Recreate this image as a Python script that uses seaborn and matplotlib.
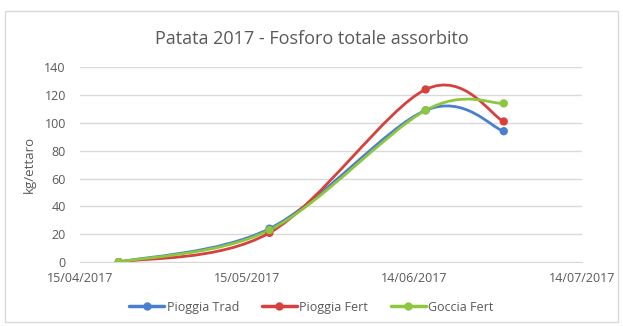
import numpy as np
import pandas as pd
import matplotlib
matplotlib.use("Agg")
import matplotlib.pyplot as plt
import matplotlib.dates as mdates
from matplotlib.path import Path
from matplotlib.patches import PathPatch, Rectangle
from matplotlib.lines import Line2D
import seaborn as sns

# dati
date = ["2017-04-22", "2017-05-19", "2017-06-16", "2017-06-30"]
pioggia_trad = [0, 24, 109, 94]
pioggia_fert = [0, 21, 124, 101]
goccia_fert = [0, 23, 109, 114]
serie = ["Pioggia Trad", "Pioggia Fert", "Goccia Fert"]
colori = ["#4a7ecf", "#d6403d", "#8dc63f"]
tick_date = ["2017-04-15", "2017-05-15", "2017-06-14", "2017-07-14"]

df = pd.DataFrame({"data": pd.to_datetime(date) })
df["Pioggia Trad"] = pioggia_trad
df["Pioggia Fert"] = pioggia_fert
df["Goccia Fert"] = goccia_fert
df_long = df.melt(id_vars="data", var_name="serie", value_name="valore")

sns.set_style("white")
plt.rcParams["font.family"] = ["Open Sans", "DejaVu Sans"]

fig = plt.figure(figsize=(6.23, 3.26), dpi=100)
ax = fig.add_axes([0.128, 0.196, 0.806, 0.598])

# curva smussata stile Excel (bezier catmull-rom)
def curva(x, y):
    p = np.column_stack([x, y])
    pts = np.vstack([p[0], p, p[-1]])
    verts = [p[0]]
    codes = [Path.MOVETO]
    for i in range(1, len(pts) - 2):
        c1 = pts[i] + (pts[i + 1] - pts[i - 1]) / 6
        c2 = pts[i + 1] - (pts[i + 2] - pts[i]) / 6
        verts += [c1, c2, pts[i + 1]]
        codes += [Path.CURVE4] * 3
    return Path(verts, codes)

xnum = mdates.date2num(df["data"])
for s, c in zip(serie, colori):
    patch = PathPatch(curva(xnum, df[s].values), facecolor="none", edgecolor=c, lw=2.0, zorder=3)
    ax.add_patch(patch)

sns.scatterplot(data=df_long, x="data", y="valore", hue="serie", palette=colori,
                s=36, edgecolor="none", ax=ax, zorder=4, legend=False)

ax.set_xlim(pd.to_datetime(tick_date[0]), pd.to_datetime(tick_date[-1]))
ax.set_ylim(0, 140)
ax.set_yticks(range(0, 141, 20))
ax.set_xticks(pd.to_datetime(tick_date))
ax.xaxis.set_major_formatter(mdates.DateFormatter("%d/%m/%Y"))
ax.grid(axis="y", color="#d9d9d9", lw=1)
for sp in ["top", "right", "left"]:
    ax.spines[sp].set_visible(False)
ax.spines["bottom"].set_color("#d9d9d9")
ax.tick_params(axis="x", length=4, color="#d9d9d9", labelsize=9, labelcolor="#595959", pad=3)
ax.tick_params(axis="y", length=0, labelsize=9, labelcolor="#595959", pad=10)
ax.set_xlabel("")
ax.set_ylabel("kg/ettaro", fontsize=9.5, color="#595959", labelpad=6)

fig.text(0.5, 0.88, "Patata 2017 - Fosforo totale assorbito", ha="center", va="center",
         fontsize=13, color="#595959")

handles = [Line2D([0], [0], color=c, lw=2.5, marker="o", markersize=5) for c in colori]
fig.legend(handles, serie, loc="center", bbox_to_anchor=(0.5, 0.058), ncol=3, frameon=False,
           fontsize=9, labelcolor="#595959", handlelength=2.8, handletextpad=0.2, columnspacing=1.8)

fig.patches.append(Rectangle((0.008, 0.012), 0.984, 0.955, transform=fig.transFigure,
                             fill=False, edgecolor="#d9d9d9", lw=1))

fig.savefig("out.png", dpi=100)
